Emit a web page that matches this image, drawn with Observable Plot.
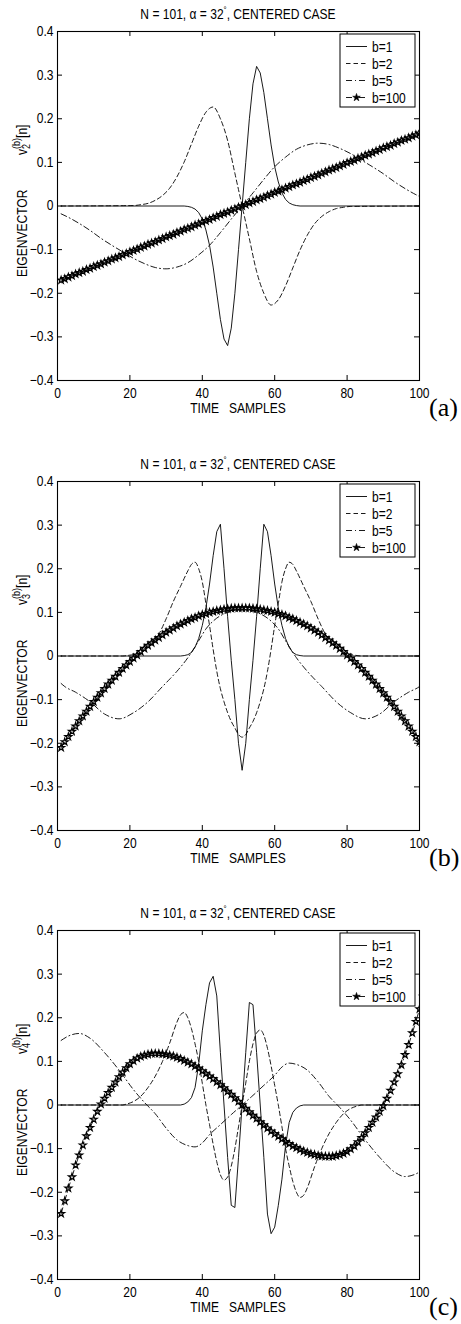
<!DOCTYPE html>
<html>
<head>
<meta charset="utf-8">
<script src="https://cdn.jsdelivr.net/npm/d3@7"></script>
<script src="https://cdn.jsdelivr.net/npm/@observablehq/plot@0.6"></script>
<style>
html, body { margin: 0; padding: 0; background: #fff; overflow: hidden; }
svg { display: block; }
</style>
</head>
<body>
<div id="chart"></div>
<script>
// ---------- labels / ticks ----------
const samples = d3.range(1, 102); // sample index n = 1..101 (n = 101 falls outside the axis)
const xTicks = [0, 20, 40, 60, 80, 100];
const yTicks = [-0.4, -0.3, -0.2, -0.1, 0, 0.1, 0.2, 0.3, 0.4];
const seriesNames = ["b=1", "b=2", "b=5", "b=100"];
const panelLabels = ["(a)", "(b)", "(c)"];
const eigIndex = ["2", "3", "4"];
const titleParts = ["N = 101, \u03b1 = 32", "\u00b0", ", CENTERED CASE"];
const xLabel = "TIME   SAMPLES";
const yLabelWord = "EIGENVECTOR";

// ---------- panel (a): v2 ----------
const a_b1_n = [1,35,36,37,38,39,40,41,42,43,44,45,46,47,48,49,50,51,52,53,54,55,56,57,58,59,60,61,62,63,64,65,66,67,101];
const a_b1_v = [0,0,-0.001,-0.003,-0.007,-0.015,-0.03,-0.055,-0.09,-0.14,-0.2,-0.26,-0.305,-0.32,-0.28,-0.2,-0.1,0,0.1,0.2,0.28,0.32,0.305,0.26,0.2,0.14,0.09,0.055,0.03,0.015,0.007,0.003,0.001,0,0];
const a_b2_n = [1,21,23,25,27,29,31,33,35,37,39,41,43,45,47,49,51,53,55,57,59,61,63,65,67,69,71,73,75,77,79,81,101];
const a_b2_v = [0,0.001,0.003,0.006,0.013,0.024,0.041,0.067,0.101,0.142,0.183,0.215,0.227,0.2,0.15,0.075,0,-0.075,-0.15,-0.2,-0.227,-0.215,-0.183,-0.142,-0.101,-0.067,-0.041,-0.024,-0.013,-0.006,-0.003,-0.001,0];
const a_b5_n = [1,3,6,9,12,15,18,21,24,27,30,33,36,39,42,45,48,51,54,57,60,63,66,69,72,75,78,81,84,87,90,93,96,99,101];
const a_b5_v = [-0.018,-0.026,-0.04,-0.056,-0.074,-0.09,-0.105,-0.12,-0.132,-0.141,-0.144,-0.14,-0.13,-0.112,-0.09,-0.061,-0.03,0,0.03,0.061,0.09,0.112,0.13,0.14,0.144,0.141,0.132,0.12,0.105,0.09,0.074,0.056,0.04,0.026,0.018];
const a_b100 = [
 -0.170,-0.167,-0.163,-0.160,-0.156,-0.153,-0.150,-0.146,-0.143,-0.139,
 -0.136,-0.133,-0.129,-0.126,-0.122,-0.119,-0.116,-0.112,-0.109,-0.105,
 -0.102,-0.099,-0.095,-0.092,-0.088,-0.085,-0.082,-0.078,-0.075,-0.071,
 -0.068,-0.065,-0.061,-0.058,-0.054,-0.051,-0.048,-0.044,-0.041,-0.037,
 -0.034,-0.031,-0.027,-0.024,-0.020,-0.017,-0.014,-0.010,-0.007,-0.003,
 0,
 0.003,0.007,0.010,0.014,0.017,0.020,0.024,0.027,0.031,0.034,
 0.037,0.041,0.044,0.048,0.051,0.054,0.058,0.061,0.065,0.068,
 0.071,0.075,0.078,0.082,0.085,0.088,0.092,0.095,0.099,0.102,
 0.105,0.109,0.112,0.116,0.119,0.122,0.126,0.129,0.133,0.136,
 0.139,0.143,0.146,0.150,0.153,0.156,0.160,0.163,0.167,0.170];

// ---------- panel (b): v3 ----------
const b_b1_n = [1,34,35,36,37,38,39,40,41,42,43,44,45,46,47,48,49,50,51,52,53,54,55,56,57,58,59,60,61,62,63,64,65,66,67,68,101];
const b_b1_v = [0,0,0.001,0.003,0.008,0.02,0.04,0.07,0.11,0.165,0.23,0.285,0.302,0.2,0.09,-0.01,-0.1,-0.2,-0.262,-0.2,-0.1,-0.01,0.09,0.2,0.302,0.285,0.23,0.165,0.11,0.07,0.04,0.02,0.008,0.003,0.001,0,0];
const b_b2_n = [1,18,20,22,24,26,28,30,32,34,36,37,38,39,40,41,42,43,44,45,46,47,48,49,50,51,52,53,54,55,56,57,58,59,60,61,62,63,64,65,66,68,70,72,74,76,78,80,82,84,101];
const b_b2_v = [0,0,0.002,0.005,0.013,0.027,0.05,0.085,0.125,0.16,0.195,0.21,0.215,0.2,0.17,0.12,0.07,0.015,-0.035,-0.075,-0.105,-0.13,-0.15,-0.165,-0.18,-0.186,-0.18,-0.165,-0.15,-0.13,-0.105,-0.075,-0.035,0.015,0.07,0.12,0.17,0.2,0.215,0.21,0.195,0.16,0.125,0.085,0.05,0.027,0.013,0.005,0.002,0,0];
const b_b5_n = [1,2,5,9,13,17,21,25,29,31,33,36,39,41,43,47,51,55,59,61,63,66,69,71,73,77,81,85,89,93,97,100,101];
const b_b5_v = [-0.063,-0.07,-0.083,-0.105,-0.133,-0.144,-0.13,-0.105,-0.07,-0.053,-0.035,-0.004,0.035,0.062,0.08,0.1,0.106,0.1,0.08,0.062,0.035,-0.004,-0.035,-0.053,-0.07,-0.105,-0.13,-0.144,-0.133,-0.105,-0.083,-0.07,-0.063];
const b_b100 = [
 -0.210,-0.197,-0.185,-0.173,-0.161,-0.149,-0.138,-0.127,-0.116,-0.105,
 -0.095,-0.085,-0.075,-0.065,-0.056,-0.047,-0.038,-0.029,-0.021,-0.013,
 -0.005,0.002,0.010,0.017,0.024,0.030,0.036,0.042,0.048,0.054,
 0.059,0.064,0.069,0.073,0.077,0.081,0.085,0.088,0.092,0.095,
 0.097,0.100,0.102,0.104,0.105,0.107,0.108,0.109,0.110,0.110,
 0.110,
 0.110,0.110,0.109,0.108,0.107,0.105,0.104,0.102,0.100,0.097,
 0.095,0.092,0.088,0.085,0.081,0.077,0.073,0.069,0.064,0.059,
 0.054,0.048,0.042,0.036,0.030,0.024,0.017,0.010,0.002,-0.005,
 -0.013,-0.021,-0.029,-0.038,-0.047,-0.056,-0.065,-0.075,-0.085,-0.095,
 -0.105,-0.116,-0.127,-0.138,-0.149,-0.161,-0.173,-0.185,-0.197,-0.210];

// ---------- panel (c): v4 ----------
const c_b1_n = [1,34,35,36,37,38,39,40,41,42,43,44,45,46,47,48,49,50,51,52,53,54,55,56,57,58,59,60,61,62,63,64,65,66,67,68,101];
const c_b1_v = [0,0,0.002,0.007,0.017,0.04,0.093,0.17,0.23,0.28,0.295,0.25,0.12,0,-0.12,-0.23,-0.235,-0.12,0,0.12,0.235,0.23,0.12,0,-0.12,-0.25,-0.295,-0.28,-0.23,-0.17,-0.093,-0.04,-0.017,-0.007,-0.002,0,0];
const c_b2_n = [1,18,19,21,23,25,27,29,31,33,34,35,36,37,38,39,40,41,42,43,44,45,46,47,48,49,50,51,52,53,54,55,56,57,58,59,60,61,62,63,64,65,66,67,68,69,71,73,75,77,79,81,83,84,101];
const c_b2_v = [0,0,0.002,0.008,0.02,0.04,0.066,0.1,0.142,0.19,0.207,0.212,0.2,0.175,0.14,0.1,0.05,0,-0.045,-0.09,-0.13,-0.16,-0.172,-0.165,-0.14,-0.1,-0.05,0,0.05,0.1,0.14,0.165,0.172,0.16,0.13,0.09,0.045,0,-0.05,-0.1,-0.14,-0.175,-0.2,-0.212,-0.207,-0.19,-0.142,-0.1,-0.066,-0.04,-0.02,-0.008,-0.002,0,0];
const c_b5_n = [1,3,6,9,13,17,21,24,27,30,33,36,38,40,42,45,48,51,54,57,60,62,64,66,69,72,75,78,81,85,89,93,96,99,101];
const c_b5_v = [0.148,0.158,0.164,0.153,0.12,0.08,0.035,0.006,-0.02,-0.053,-0.08,-0.093,-0.096,-0.087,-0.068,-0.045,-0.022,0,0.022,0.045,0.068,0.087,0.096,0.093,0.08,0.053,0.02,-0.006,-0.035,-0.08,-0.12,-0.153,-0.164,-0.158,-0.148];
const c_b100 = [
 -0.249,-0.220,-0.191,-0.165,-0.138,-0.115,-0.092,-0.071,-0.052,-0.033,
 -0.015,0.002,0.015,0.028,0.040,0.052,0.064,0.075,0.085,0.094,
 0.101,0.107,0.111,0.114,0.116,0.118,0.118,0.118,0.117,0.116,
 0.114,0.112,0.109,0.106,0.102,0.098,0.094,0.089,0.084,0.078,
 0.072,0.066,0.060,0.053,0.046,0.039,0.031,0.024,0.016,0.008,
 0,
 -0.008,-0.016,-0.024,-0.031,-0.039,-0.046,-0.053,-0.060,-0.066,-0.072,
 -0.078,-0.084,-0.089,-0.094,-0.098,-0.102,-0.106,-0.109,-0.112,-0.114,
 -0.116,-0.117,-0.118,-0.118,-0.118,-0.116,-0.114,-0.111,-0.107,-0.101,
 -0.094,-0.085,-0.075,-0.064,-0.052,-0.040,-0.028,-0.015,-0.002,0.015,
 0.033,0.052,0.071,0.092,0.115,0.138,0.165,0.191,0.220,0.249];

// ---------- drawing ----------
const FONT = "'Liberation Sans',Arial,Helvetica,sans-serif";
const SERIF = "'Liberation Serif','Times New Roman',serif";
const SX = 0.86;            // horizontal squeeze of the sans text, as in the reference
const DASH = "4.5,3";
const DASHDOT = "6,3,1,3";
const STAR_R = 2.2;

const panels = [
  {b1n: a_b1_n, b1v: a_b1_v, b2n: a_b2_n, b2v: a_b2_v, b5n: a_b5_n, b5v: a_b5_v, b100: a_b100, H: 450},
  {b1n: b_b1_n, b1v: b_b1_v, b2n: b_b2_n, b2v: b_b2_v, b5n: b_b5_n, b5v: b_b5_v, b100: b_b100, H: 449},
  {b1n: c_b1_n, b1v: c_b1_v, b2n: c_b2_n, b2v: c_b2_v, b5n: c_b5_n, b5v: c_b5_v, b100: c_b100, H: 425}
];

const pts = (ns, vs) => ns.map((n, i) => ({n, v: vs[i]}));

function addText(parent, x, y, anchor, size, str) {
  return parent.append("text")
    .attr("transform", `translate(${x},${y}) scale(${SX},1)`)
    .attr("text-anchor", anchor)
    .attr("font-family", FONT).attr("font-size", size).attr("fill", "black")
    .style("white-space", "pre")
    .text(str);
}

function drawPanel(p, idx) {
  const FT = 31, FH = 349, FL = 57, FW = 362, W = 461;
  const FB = FT + FH, cx = FL + FW / 2;
  const line = {x: "n", y: "v", stroke: "black", strokeWidth: 0.9, clip: true};
  const svg = Plot.plot({
    width: W, height: p.H,
    marginTop: FT, marginBottom: p.H - FB, marginLeft: FL, marginRight: W - FL - FW,
    x: {domain: [0, 100]},
    y: {domain: [-0.4, 0.4]},
    style: {fontFamily: FONT, fontSize: "14px", color: "black", background: "white", overflow: "visible"},
    marks: [
      Plot.line(pts(p.b1n, p.b1v), {...line, curve: "linear"}),
      Plot.line(pts(p.b2n, p.b2v), {...line, curve: "monotone-x", strokeDasharray: DASH}),
      Plot.line(pts(p.b5n, p.b5v), {...line, curve: "monotone-x", strokeDasharray: DASHDOT}),
      Plot.line(pts(samples, p.b100), {...line, strokeDasharray: DASHDOT}),
      Plot.dot(pts(samples, p.b100), {x: "n", y: "v", symbol: "star", r: STAR_R, stroke: "black", strokeWidth: 1.2, fill: "none", clip: true}),
      Plot.ruleX(xTicks, {insetTop: FH - 5, stroke: "black"}),
      Plot.ruleX(xTicks, {insetBottom: FH - 5, stroke: "black"}),
      Plot.ruleY(yTicks, {insetRight: FW - 5, stroke: "black"}),
      Plot.ruleY(yTicks, {insetLeft: FW - 5, stroke: "black"}),
      Plot.axisX(xTicks, {tickSize: 0, tickPadding: 8, label: null, fontSize: 14, tickFormat: d => String(d)}),
      Plot.axisY(yTicks, {tickSize: 0, tickPadding: 4, label: null, fontSize: 14,
        tickFormat: d => d === 0 ? "0" : d3.format(".1f")(d)}),
      Plot.frame({stroke: "black", strokeWidth: 1.1})
    ]
  });

  const s = d3.select(svg);
  // squeeze the axis tick labels horizontally about their anchor
  s.selectAll("text").each(function () {
    const tr = this.getAttribute("transform");
    if (tr) this.setAttribute("transform", `${tr} scale(${SX},1)`);
  });

  // title
  const t = addText(s, cx, 18.5, "middle", 14, null);
  t.append("tspan").text(titleParts[0]);
  t.append("tspan").attr("dy", -6).attr("font-size", 9).text(titleParts[1]);
  t.append("tspan").attr("dy", 6).text(titleParts[2]);

  // x label
  addText(s, cx, FB + 32.5, "middle", 14, xLabel);

  // y label
  const gy = s.append("g").attr("transform", "translate(27,0) rotate(-90)");
  addText(gy, -(FT + 246), 0, "start", 14, yLabelWord);
  const t2 = addText(gy, -(FT + 124), 0, "start", 14, null);
  t2.append("tspan").text("v");
  t2.append("tspan").attr("dy", 3).attr("font-size", 10.5).text(eigIndex[idx]);
  t2.append("tspan").attr("dx", -5.8).attr("dy", -10.5).attr("font-size", 10.5).text("(b)");
  t2.append("tspan").attr("dy", 7.5).text("[n]");

  // legend
  const lg = s.append("g");
  const LX = FL + FW - 79, LY = FT + 3;
  lg.append("rect").attr("x", LX).attr("y", LY).attr("width", 75).attr("height", 73)
    .attr("fill", "white").attr("stroke", "black").attr("stroke-width", 1);
  const dashes = [null, DASH, DASHDOT, DASHDOT];
  seriesNames.forEach((name, i) => {
    const y = LY + 12.5 + i * 17;
    lg.append("line").attr("x1", LX + 6).attr("x2", LX + 27).attr("y1", y).attr("y2", y)
      .attr("stroke", "black").attr("stroke-width", 0.9)
      .attr("stroke-dasharray", dashes[i]);
    if (i === 3) {
      lg.append("path").attr("transform", `translate(${LX + 16.5},${y})`)
        .attr("d", d3.symbol(d3.symbolStar, 18)()).attr("fill", "black").attr("stroke", "black").attr("stroke-width", 0.6);
    }
    addText(lg, LX + 32, y + 5, "start", 14, name);
  });

  // panel label
  s.append("text").attr("x", 429).attr("y", FB + 35.5).attr("text-anchor", "start")
    .attr("font-family", SERIF).attr("font-size", 26).attr("fill", "black").text(panelLabels[idx]);

  return svg;
}

const chart = document.getElementById("chart");
panels.forEach((p, i) => chart.appendChild(drawPanel(p, i)));
</script>
</body>
</html>
